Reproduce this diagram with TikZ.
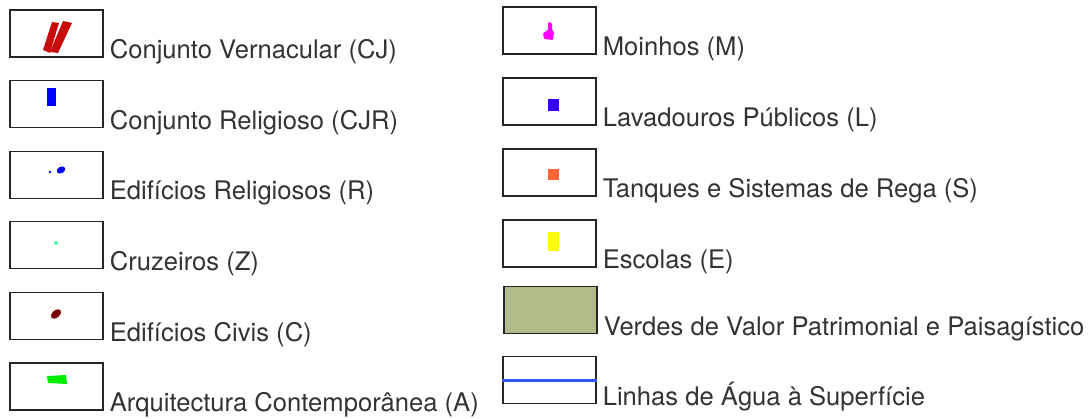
\documentclass[tikz,border=0pt]{standalone}
\usepackage{fontspec}
\setmainfont{TeX Gyre Heros}
\usetikzlibrary{positioning, calc}

\definecolor{cjred}{RGB}{200,12,12}
\definecolor{cjrblue}{RGB}{0,0,255}
\definecolor{zgreen}{RGB}{0,255,128}
\definecolor{cbrown}{RGB}{120,0,0}
\definecolor{agreen}{RGB}{0,238,0}
\definecolor{mmagenta}{RGB}{255,0,255}
\definecolor{lblue}{RGB}{51,0,255}
\definecolor{sorange}{RGB}{255,102,51}
\definecolor{eyellow}{RGB}{255,255,0}
\definecolor{vgreen}{RGB}{176,189,138}
\definecolor{wblue}{RGB}{51,85,255}

\begin{document}
\begin{tikzpicture}[x=1pt, y=-1pt]
    \tikzset{
      legbox/.style={
        rectangle, draw=black!85, line width=1.2pt,
        minimum width=93pt, minimum height=47pt, inner sep=0pt
      },
      legtext/.style={
        anchor=base west, inner sep=0pt, text=black!80,
        font=\fontsize{25.6}{30}\selectfont
      }
    }
    \useasboundingbox (0,0) rectangle (1091,419);

    % Left column
    \node[legbox] (cj)  at (56.5,33.5)  {};
    \node[legbox] (cjr) at (56.5,104.1) {};
    \node[legbox] (r)   at (56.5,174.7) {};
    \node[legbox] (z)   at (56.5,245.3) {};
    \node[legbox] (c)   at (56.5,315.9) {};
    \node[legbox] (a)   at (56.5,386.5) {};

    \node[legtext] (cjt)  at ($(cj.south east)+(6,1)$)  {Conjunto Vernacular (CJ)};
    \node[legtext] (cjrt) at ($(cjr.south east)+(6,1)$) {Conjunto Religioso (CJR)};
    \node[legtext] (rt)   at ($(r.south east)+(6,1)$)   {Edifícios Religiosos (R)};
    \node[legtext] (zt)   at ($(z.south east)+(6,1)$)   {Cruzeiros (Z)};
    \node[legtext] (ct)   at ($(c.south east)+(6,1)$)   {Edifícios Civis (C)};
    \node[legtext] (at)   at ($(a.south east)+(6,1)$)   {Arquitectura Contemporânea (A)};

    % Right column
    \node[legbox] (m)  at (549.5,30.5)  {};
    \node[legbox] (l)  at (549.5,101.5) {};
    \node[legbox] (s)  at (549.5,172.5) {};
    \node[legbox] (e)  at (549.5,243.5) {};
    \node[legbox, fill=vgreen] (v) at (550.5,310) {};
    \node[legbox] (w)  at (549.5,380)   {};

    \node[legtext] (mt) at ($(m.south east)+(6,1)$) {Moinhos (M)};
    \node[legtext] (lt) at ($(l.south east)+(6,1)$) {Lavadouros Públicos (L)};
    \node[legtext] (st) at ($(s.south east)+(6,1)$) {Tanques e Sistemas de Rega (S)};
    \node[legtext] (et) at ($(e.south east)+(6,1)$) {Escolas (E)};
    \node[legtext] (vt) at ($(v.south east)+(6,1)$) {Verdes de Valor Patrimonial e Paisagístico};
    \node[legtext] (wt) at ($(w.south east)+(6,1)$) {Linhas de Água à Superfície};

    % Symbols
    \fill[cjred] (43,50) -- (52,22) -- (59,23) -- (50,53) -- cycle;
    \fill[cjred] (50,52) -- (63,21) -- (72,23) -- (58,53) -- cycle;
    \fill[cjrblue] (47,88) rectangle (56,106);
    \fill[cjrblue] (50,172) circle (1.4);
    \fill[cjrblue, rotate around={30:(61,170)}] (61,170) ellipse (4.5 and 3.2);
    \fill[zgreen] (56,243) circle (1.8);
    \fill[cbrown, rotate around={40:(56,314)}] (56,314) ellipse (6 and 3.6);
    \fill[agreen] (47,376) -- (66,375) -- (67,384) -- (48,383) -- cycle;
    \fill[mmagenta, rounded corners=1pt] (548,22) -- (552,23) -- (552,30) -- (554,32)
      -- (553,40) -- (544,39) -- (543,33) -- (548,30) -- cycle;
    \fill[lblue] (548,99) rectangle (559,111);
    \fill[sorange] (548,169) rectangle (559,180);
    \fill[eyellow] (548,232) rectangle (559,251);
    \draw[wblue, line width=3pt] (w.west) -- (w.east);
\end{tikzpicture}
\end{document}
